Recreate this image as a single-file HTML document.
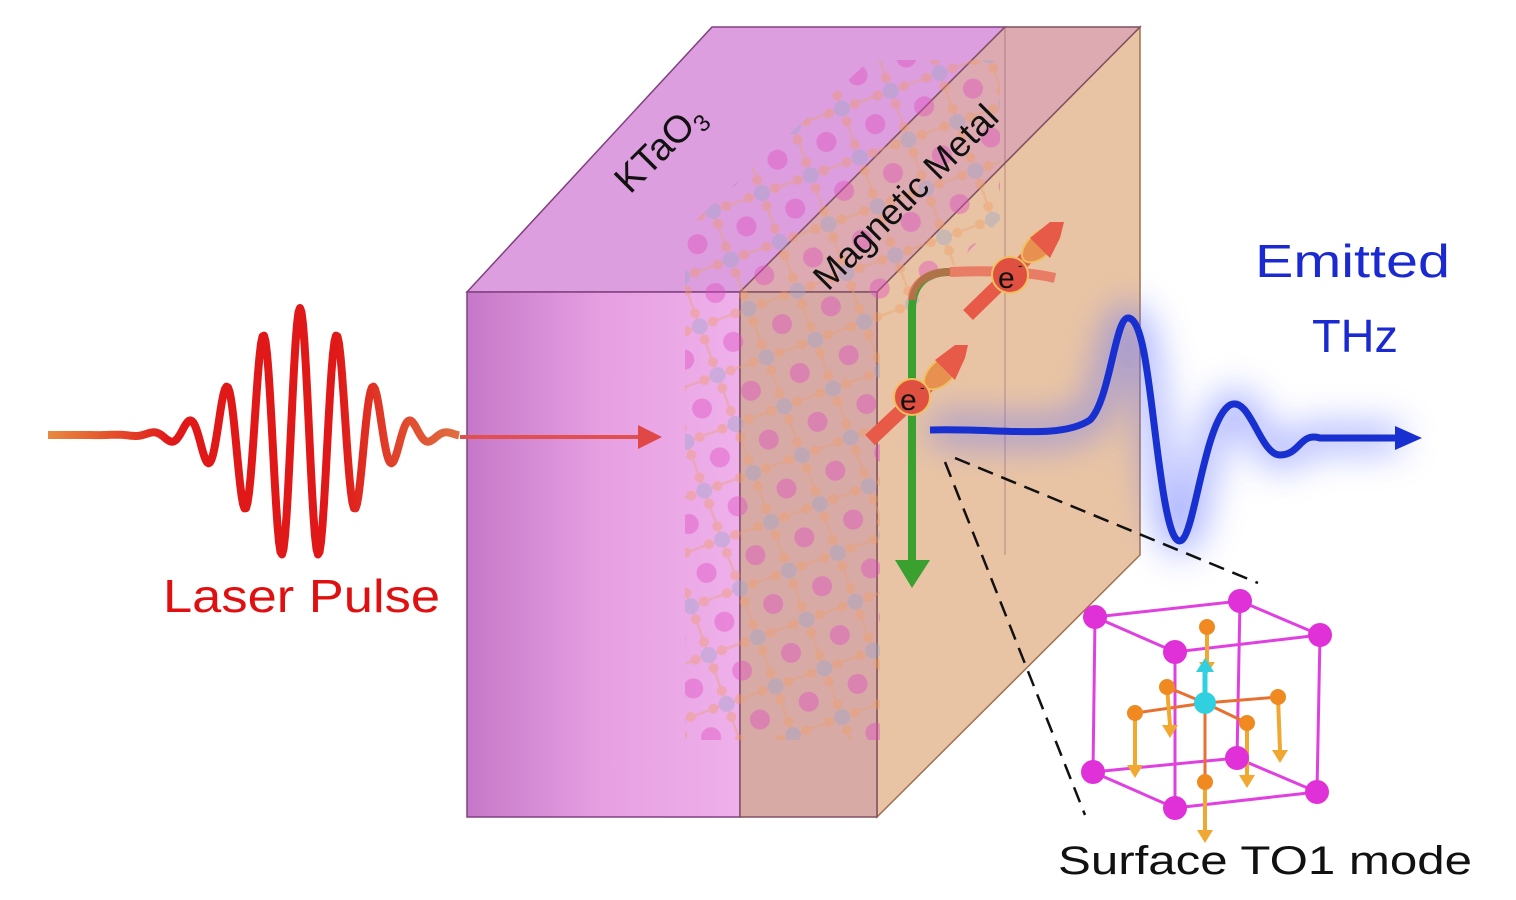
<!DOCTYPE html>
<html><head><meta charset="utf-8"><style>
html,body{margin:0;padding:0;background:#fff}
svg{display:block}
text{font-family:"Liberation Sans",sans-serif}
</style></head><body>
<svg id="s" width="1516" height="900" viewBox="0 0 1516 900" xmlns="http://www.w3.org/2000/svg">
<defs>
<linearGradient id="kf" x1="0" x2="1" y1="0" y2="0">
<stop offset="0" stop-color="#c678c8"/><stop offset="0.5" stop-color="#e7a0e2"/><stop offset="1" stop-color="#eeb0ea"/></linearGradient>
<linearGradient id="las" x1="0" x2="1"><stop offset="0" stop-color="#e88a40"/><stop offset="0.3" stop-color="#e01818"/><stop offset="0.7" stop-color="#e01818"/><stop offset="1" stop-color="#e07040"/></linearGradient>
<filter id="blur" x="-50%" y="-50%" width="200%" height="200%"><feGaussianBlur stdDeviation="18"/></filter>
<pattern id="lat" width="52" height="52" patternUnits="userSpaceOnUse" patternTransform="rotate(-20)">
<line x1="0" y1="26" x2="52" y2="26" stroke="#e8a070" stroke-width="2.5"/>
<line x1="26" y1="0" x2="26" y2="52" stroke="#e8a070" stroke-width="2.5"/>
<circle cx="26" cy="26" r="8" fill="#9aa6c8"/>
<circle cx="0" cy="0" r="10" fill="#e048c0"/>
<circle cx="52" cy="0" r="10" fill="#e048c0"/>
<circle cx="0" cy="52" r="10" fill="#e048c0"/>
<circle cx="52" cy="52" r="10" fill="#e048c0"/>
<circle cx="12" cy="26" r="5" fill="#f09a60"/>
<circle cx="40" cy="26" r="5" fill="#f09a60"/>
<circle cx="26" cy="12" r="5" fill="#f09a60"/>
<circle cx="26" cy="40" r="5" fill="#f09a60"/>
</pattern>
<marker id="ah" markerWidth="6" markerHeight="6" refX="3" refY="3" orient="auto"><path d="M0,0 L6,3 L0,6z" fill="#e04848"/></marker>
</defs>

<polygon points="877,292 1140,27 1140,555 877,817" fill="#e9c4a4" stroke="#a07050" stroke-width="1.5"/>
<polygon points="467,292 740,292 1005,27 712,27" fill="#dc9ede" stroke="#804080" stroke-width="1.5"/>
<polygon points="740,292 877,292 1140,27 1005,27" fill="#dcaab0" stroke="#805060" stroke-width="1.5"/>
<rect x="467" y="292" width="273" height="525" fill="url(#kf)" stroke="#804080" stroke-width="1.5"/>
<rect x="740" y="292" width="137" height="525" fill="#d8aaa6" stroke="#805060" stroke-width="1.5"/>
<polygon points="685,230 870,60 1000,60 1000,220 880,340 880,740 685,740" fill="url(#lat)" opacity="0.4"/>
<line x1="1005" y1="27" x2="1005" y2="555" stroke="#805060" stroke-width="1" opacity="0.5"/>

<text x="0" y="0" font-size="38" fill="#111" transform="translate(630,195) rotate(-45)">KTaO<tspan font-size="24" dy="8">3</tspan></text>
<text x="0" y="0" font-size="36" fill="#111" transform="translate(828,292) rotate(-45)">Magnetic Metal</text>

<path id="laser" d="" fill="none" stroke="url(#las)" stroke-width="8" stroke-linejoin="round"/>
<line x1="460" y1="437" x2="650" y2="437" stroke="#e05050" stroke-width="4" marker-end="url(#ah)"/>
<text x="163" y="612" font-size="46" fill="#e01010" textLength="277" lengthAdjust="spacingAndGlyphs">Laser Pulse</text>

<path d="M930,430 C1000,428 1060,440 1090,420 C1110,400 1115,318 1128,318 C1145,318 1150,400 1160,470 C1168,530 1175,545 1182,540 C1195,530 1205,420 1230,405 C1250,395 1260,455 1280,455 C1300,455 1300,432 1320,438 L1400,438" fill="none" stroke="#6070ff" stroke-width="26" opacity="0.55" filter="url(#blur)"/>
<path d="M930,430 C1000,428 1060,440 1090,420 C1110,400 1115,318 1128,318 C1145,318 1150,400 1160,470 C1168,530 1175,545 1182,540 C1195,530 1205,420 1230,405 C1250,395 1260,455 1280,455 C1300,455 1300,432 1320,438 L1400,438" fill="none" stroke="#1830d0" stroke-width="7"/>
<polygon points="1395,426 1422,438 1395,450" fill="#1830d0"/>
<text x="1255" y="277" font-size="46" fill="#1a2ad0" textLength="195" lengthAdjust="spacingAndGlyphs">Emitted</text>
<text x="1312" y="352" font-size="46" fill="#1a2ad0" textLength="86" lengthAdjust="spacingAndGlyphs">THz</text>

<path d="M950,272 C925,272 912,285 912,310 L912,565" fill="none" stroke="#3aa030" stroke-width="8"/>
<path d="M950,272 C925,272 912,285 912,300" fill="none" stroke="#e06050" stroke-width="8" opacity="0.7"/>
<polygon points="895,560 930,560 912,588" fill="#3aa030"/>
<path d="M950,272 C990,270 1030,272 1055,278" fill="none" stroke="#e8705a" stroke-width="10" opacity="0.85"/>

<g>
<line x1="870" y1="440" x2="950" y2="365" stroke="#e85a48" stroke-width="14"/>
<ellipse cx="942" cy="372" rx="22" ry="12" transform="rotate(-43 942 372)" fill="#e89050" stroke="#f0c060" stroke-width="2"/>
<polygon points="955,345 968,345 965,358 955,380 935,360" fill="#e85a48"/>
<circle cx="912" cy="397" r="18" fill="#e05040" stroke="#f0c060" stroke-width="2"/>
<text x="900" y="410" font-size="30" fill="#111">e</text><text x="920" y="392" font-size="14" fill="#111">-</text>
</g>
<g>
<line x1="968" y1="315" x2="1045" y2="240" stroke="#e85a48" stroke-width="14"/>
<ellipse cx="1040" cy="245" rx="22" ry="12" transform="rotate(-43 1040 245)" fill="#e89050" stroke="#f0c060" stroke-width="2"/>
<polygon points="1050,222 1064,222 1060,238 1050,258 1030,238" fill="#e85a48"/>
<circle cx="1010" cy="275" r="18" fill="#e05040" stroke="#f0c060" stroke-width="2"/>
<text x="998" y="288" font-size="30" fill="#111">e</text><text x="1018" y="270" font-size="14" fill="#111">-</text>
</g>

<line x1="945" y1="462" x2="1085" y2="815" stroke="#111" stroke-width="2.5" stroke-dasharray="16,9"/>
<line x1="955" y1="458" x2="1258" y2="583" stroke="#111" stroke-width="2.5" stroke-dasharray="16,9"/>

<g stroke="#e040e0" stroke-width="3" fill="none">
<polygon points="1095,617 1240,601 1320,635 1175,652"/>
<polygon points="1093,772 1237,758 1317,792 1175,808"/>
<line x1="1095" y1="617" x2="1093" y2="772"/><line x1="1240" y1="601" x2="1237" y2="758"/>
<line x1="1320" y1="635" x2="1317" y2="792"/><line x1="1175" y1="652" x2="1175" y2="808"/>
</g>
<g stroke="#e87030" stroke-width="3">
<line x1="1205" y1="703" x2="1167" y2="687"/><line x1="1205" y1="703" x2="1135" y2="713"/>
<line x1="1205" y1="703" x2="1278" y2="697"/><line x1="1205" y1="703" x2="1247" y2="723"/>
<line x1="1205" y1="703" x2="1205" y2="782"/>
</g>
<g stroke="#f0a830" stroke-width="4">
<line x1="1207" y1="627" x2="1207" y2="662"/><line x1="1167" y1="687" x2="1170" y2="725"/>
<line x1="1135" y1="713" x2="1135" y2="765"/><line x1="1278" y1="697" x2="1280" y2="750"/>
<line x1="1247" y1="723" x2="1247" y2="775"/><line x1="1205" y1="782" x2="1205" y2="830"/>
</g>
<g fill="#f0a830">
<polygon points="1199,662 1215,662 1207,674"/><polygon points="1162,725 1178,725 1170,738"/>
<polygon points="1127,765 1143,765 1135,778"/><polygon points="1272,750 1288,750 1280,763"/>
<polygon points="1239,775 1255,775 1247,788"/><polygon points="1197,830 1213,830 1205,843"/>
</g>
<line x1="1205" y1="703" x2="1205" y2="668" stroke="#30d0e0" stroke-width="5"/>
<polygon points="1196,672 1214,672 1205,658" fill="#30d0e0"/>
<circle cx="1205" cy="703" r="11" fill="#30d0e0"/>
<g fill="#f08a20">
<circle cx="1207" cy="627" r="8"/><circle cx="1167" cy="687" r="8"/><circle cx="1135" cy="713" r="8"/>
<circle cx="1278" cy="697" r="8"/><circle cx="1247" cy="723" r="8"/><circle cx="1205" cy="782" r="8"/>
</g>
<g fill="#e030d8">
<circle cx="1095" cy="617" r="12"/><circle cx="1240" cy="601" r="12"/><circle cx="1320" cy="635" r="12"/><circle cx="1175" cy="652" r="12"/>
<circle cx="1093" cy="772" r="12"/><circle cx="1237" cy="758" r="12"/><circle cx="1317" cy="792" r="12"/><circle cx="1175" cy="808" r="12"/>
</g>
<text x="1058" y="874" font-size="40" fill="#111" textLength="414" lengthAdjust="spacingAndGlyphs">Surface TO1 mode</text>
</svg>
<script>
var d="M48,435";
for(var x=48;x<=460;x+=1.5){var e=Math.exp(-Math.pow((x-300)/75,2));var y=435-127*e*Math.cos(2*Math.PI*(x-300)/37);d+=" L"+x.toFixed(1)+","+y.toFixed(1);}
document.getElementById("laser").setAttribute("d",d);
</script>
</body></html>
